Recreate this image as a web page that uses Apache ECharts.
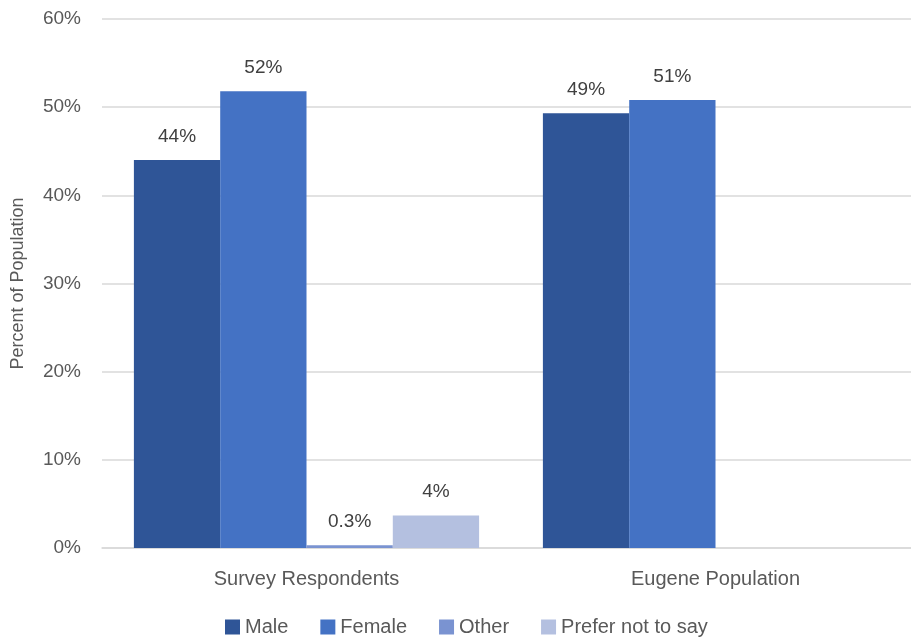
<!DOCTYPE html>
<html><head><meta charset="utf-8">
<script src="https://cdn.jsdelivr.net/npm/echarts@6/dist/echarts.min.js"></script>
<style>html,body{margin:0;padding:0;background:#fff}#c{width:911px;height:639px}</style>
</head><body><div id="c"></div>
<script>
const categories = ['Survey Respondents', 'Eugene Population'];
const seriesNames = ['Male', 'Female', 'Other', 'Prefer not to say'];
const male = [44.0, 49.3];
const female = [51.8, 50.8];
const other = [0.3, null];
const preferNot = [3.7, null];
const maleLabels = ['44%', '49%'];
const femaleLabels = ['52%', '51%'];
const otherLabels = ['0.3%', ''];
const preferLabels = ['4%', ''];
const yTicks = [0, 10, 20, 30, 40, 50, 60];

const colors = ['#2F5597', '#4472C4', '#7A93D1', '#B4C0E0'];
const font = 'Liberation Sans, Noto Sans, sans-serif';
const values = [male, female, other, preferNot];
const labels = [maleLabels, femaleLabels, otherLabels, preferLabels];

const chart = echarts.init(document.getElementById('c'), null, {renderer: 'canvas'});
chart.setOption({
  animation: false,
  color: colors,
  textStyle: {fontFamily: font},
  grid: {left: 102, right: -9, top: 19, bottom: 91, outerBoundsMode: 'none', containLabel: false},
  legend: {
    top: 612, left: 220, itemWidth: 15, itemHeight: 15, itemGap: 32,
    icon: 'rect',
    textStyle: {color: '#595959', fontSize: 20, fontFamily: font},
    data: seriesNames
  },
  xAxis: {
    type: 'category', data: categories,
    axisTick: {show: false},
    axisLine: {lineStyle: {color: '#D9D9D9', width: 1.5}},
    axisLabel: {color: '#595959', fontSize: 20, margin: 21}
  },
  yAxis: {
    type: 'value', min: 0, max: 60, interval: 10,
    name: 'Percent of Population', nameLocation: 'middle', nameGap: 75,
    nameTextStyle: {color: '#595959', fontSize: 18},
    axisLabel: {color: '#595959', fontSize: 19, margin: 21,
      formatter: v => yTicks.includes(v) ? v + '%' : ''},
    splitLine: {lineStyle: {color: '#D9D9D9', width: 1.5}}
  },
  series: seriesNames.map((n, i) => ({
    name: n, type: 'bar', data: values[i],
    barGap: '0%', barCategoryGap: '15.6%',
    itemStyle: {color: colors[i]},
    label: {show: true, position: 'top', distance: 14, color: '#404040', fontSize: 19,
      formatter: p => labels[i][p.dataIndex]}
  }))
});
</script></body></html>
